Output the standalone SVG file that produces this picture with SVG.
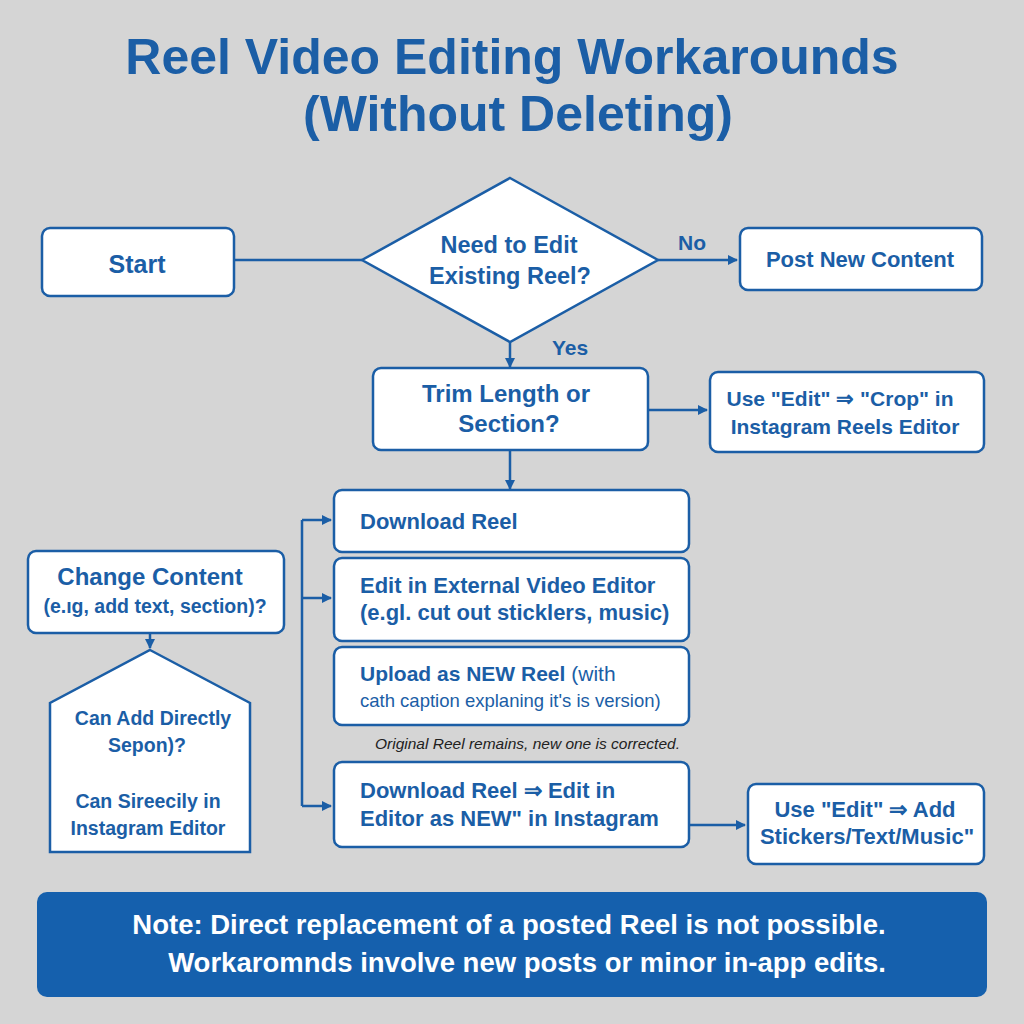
<svg xmlns="http://www.w3.org/2000/svg" width="1024" height="1024" viewBox="0 0 1024 1024">
<defs>
<marker id="ah" markerWidth="10" markerHeight="10" refX="9" refY="5" orient="auto" markerUnits="userSpaceOnUse"><path d="M0,0 L10,5 L0,10 z" fill="#1b5ea6"/></marker>
<style>
.b{fill:#fff;stroke:#1b5ea6;stroke-width:2.5}
.t{font-family:"Liberation Sans",Arial,sans-serif;font-weight:bold;fill:#1b5ea6;font-size:22px}
.c{text-anchor:middle}
.l{stroke:#1b5ea6;stroke-width:2.5;fill:none}
</style>
</defs>
<rect width="1024" height="1024" fill="#d5d5d5"/>
<g id="title"><text x="512" y="74" style="font-size:50px" class="t c">Reel Video Editing Workarounds</text><text x="518" y="131" style="font-size:50px" class="t c">(Without Deleting)</text></g>
<g id="connectors">
<path class="l" d="M234,260 H362"/>
<path class="l" d="M658,260 H737" marker-end="url(#ah)"/>
<path class="l" d="M510,342 V367" marker-end="url(#ah)"/>
<path class="l" d="M648,410 H707" marker-end="url(#ah)"/>
<path class="l" d="M510,450 V489" marker-end="url(#ah)"/>
<path class="l" d="M302,520 V806"/>
<path class="l" d="M302,520 H331" marker-end="url(#ah)"/>
<path class="l" d="M302,598 H331" marker-end="url(#ah)"/>
<path class="l" d="M302,806 H331" marker-end="url(#ah)"/>
<path class="l" d="M689,825 H745" marker-end="url(#ah)"/>
<path class="l" d="M150,633 V648" marker-end="url(#ah)"/>
<text class="t" x="678" y="250" style="font-size:21px">No</text>
<text class="t" x="552" y="355" style="font-size:21px">Yes</text>
</g>
<g id="start"><rect class="b" x="42" y="228" width="192" height="68" rx="8"/><text class="t c" x="137" y="273" style="font-size:25px">Start</text></g>
<g id="decision"><path class="b" d="M510,178 L658,260 L510,342 L362,260 z"/><text class="t c" x="509" y="253" style="font-size:23.5px">Need to Edit</text><text class="t c" x="510" y="284" style="font-size:23.5px">Existing Reel?</text></g>
<g id="post"><rect class="b" x="740" y="228" width="242" height="62" rx="8"/><text class="t c" x="860" y="267">Post New Content</text></g>
<g id="trim"><rect class="b" x="373" y="368" width="275" height="82" rx="8"/><text class="t c" x="506" y="402" style="font-size:24px">Trim Length or</text><text class="t c" x="509" y="432" style="font-size:24px">Section?</text></g>
<g id="crop"><rect class="b" x="710" y="372" width="274" height="80" rx="8"/><text class="t c" x="840" y="406" style="font-size:21px">Use "Edit" ⇒ "Crop" in</text><text class="t c" x="845" y="434" style="font-size:21px">Instagram Reels Editor</text></g>
<g id="download"><rect class="b" x="334" y="490" width="355" height="62" rx="8"/><text class="t" x="360" y="529">Download Reel</text></g>
<g id="edit"><rect class="b" x="334" y="558" width="355" height="83" rx="8"/><text class="t" x="360" y="593">Edit in External Video Editor</text><text class="t" x="360" y="620">(e.gl. cut out sticklers, music)</text></g>
<g id="upload"><rect class="b" x="334" y="647" width="355" height="78" rx="8"/><text class="t" x="360" y="681" style="font-size:21px">Upload as NEW Reel <tspan style="font-weight:normal">(with</tspan></text><text class="t" x="360" y="707" style="font-size:18.5px;font-weight:normal">cath caption explaning it's is version)</text></g>
<text id="noteText" x="375" y="749" style="font-family:'Liberation Sans',Arial,sans-serif;font-style:italic;font-size:15.5px;fill:#222">Original Reel remains, new one is corrected.</text>
<g id="download2"><rect class="b" x="334" y="762" width="355" height="85" rx="8"/><text class="t" x="360" y="798">Download Reel ⇒ Edit in</text><text class="t" x="360" y="826">Editor as NEW" in Instagram</text></g>
<g id="stickers"><rect class="b" x="748" y="784" width="236" height="80" rx="8"/><text class="t c" x="865" y="817">Use "Edit" ⇒ Add</text><text class="t c" x="867" y="844">Stickers/Text/Music"</text></g>
<g id="change"><rect class="b" x="28" y="551" width="256" height="82" rx="8"/><text class="t c" x="150" y="585" style="font-size:24px">Change Content</text><text class="t c" x="155" y="613" style="font-size:19.5px">(e.ıg, add text, section)?</text></g>
<g id="direct"><path class="b" d="M150,650 L250,703 L250,852 L50,852 L50,703 z"/><text class="t c" x="153" y="725" style="font-size:19.5px">Can Add Directly</text><text class="t c" x="147" y="752" style="font-size:19.5px">Sepon)?</text><text class="t c" x="148" y="808" style="font-size:19.5px">Can Sireecily in</text><text class="t c" x="148" y="835" style="font-size:19.5px">Instagram Editor</text></g>
<g id="note"><rect x="37" y="892" width="950" height="105" rx="10" fill="#1560ad"/><text class="c" x="509" y="934" style="font-family:'Liberation Sans',Arial,sans-serif;font-weight:bold;font-size:27.5px;fill:#fff">Note: Direct replacement of a posted Reel is not possible.</text><text class="c" x="527" y="972" style="font-family:'Liberation Sans',Arial,sans-serif;font-weight:bold;font-size:27.5px;fill:#fff">Workaromnds involve new posts or minor in-app edits.</text></g>
</svg>
